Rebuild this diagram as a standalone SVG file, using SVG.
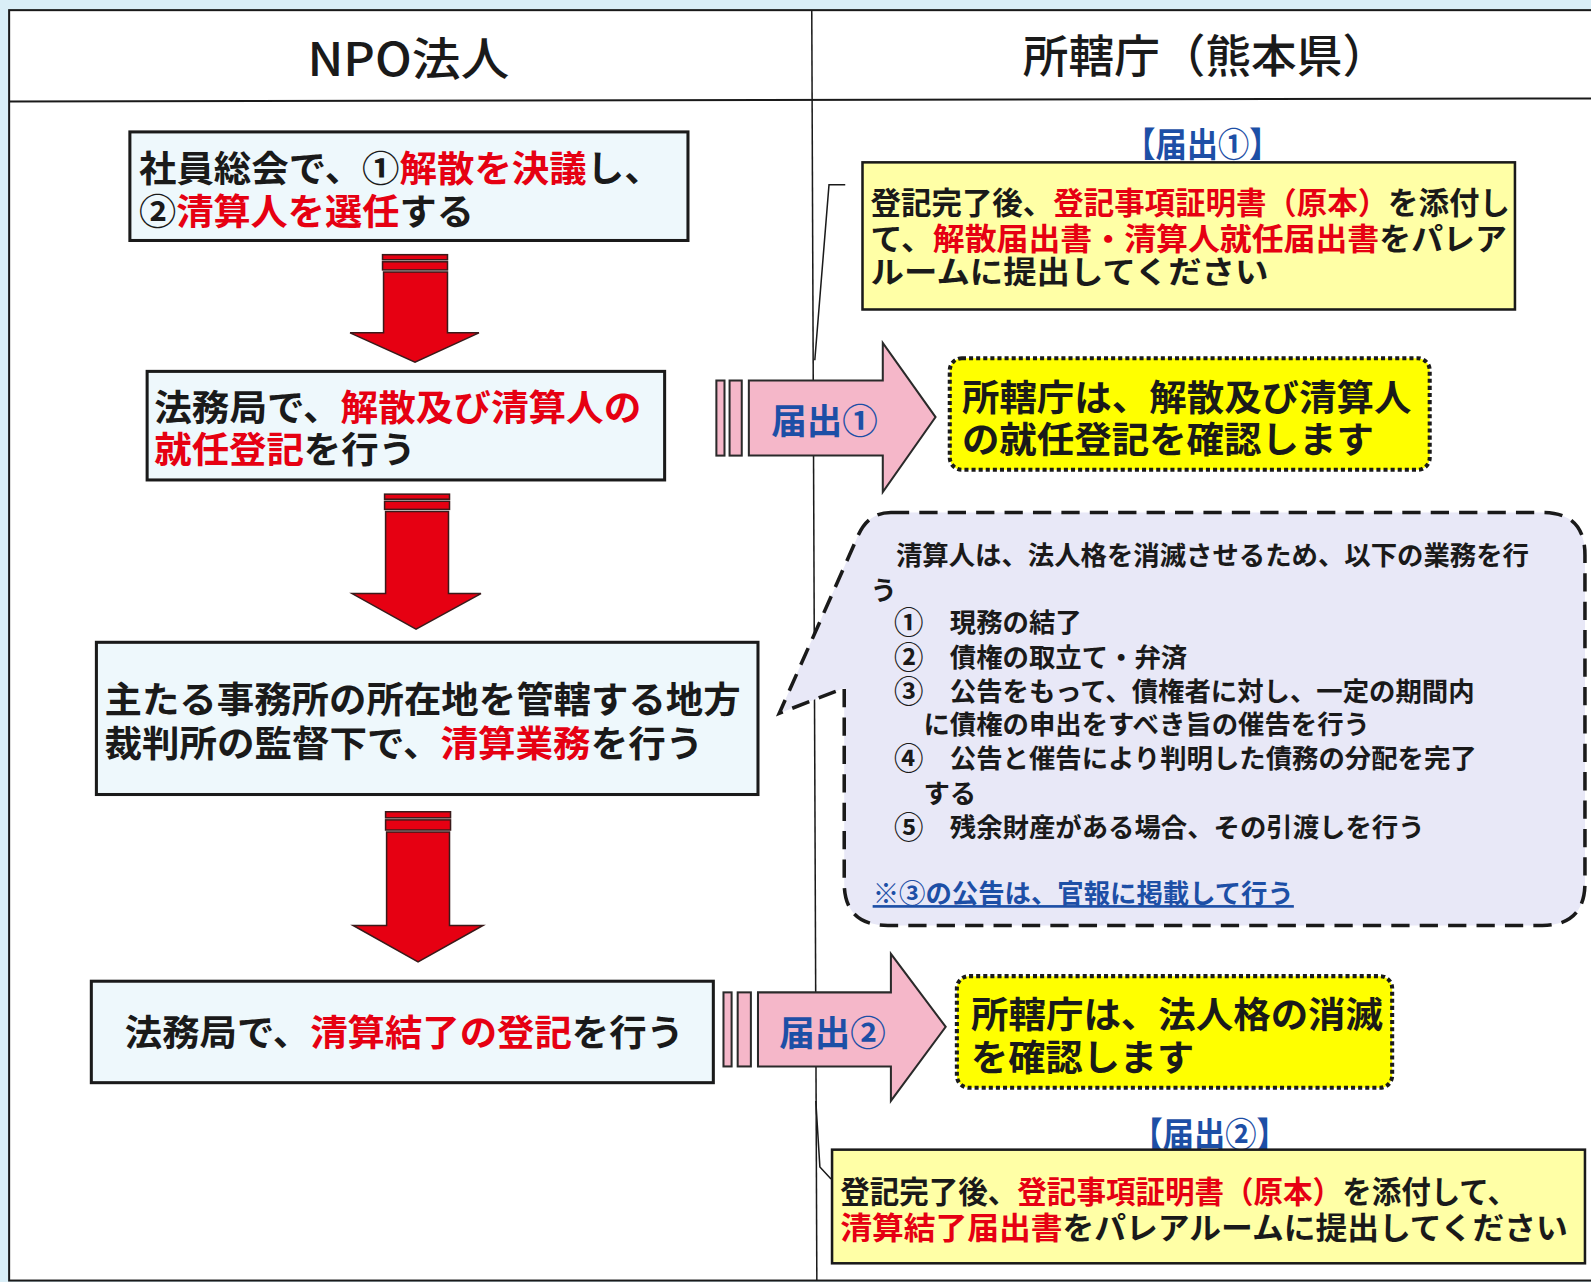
<svg xmlns="http://www.w3.org/2000/svg" width="1591" height="1282" viewBox="0 0 1591 1282">
<style>
text{font-family:"Noto Sans CJK JP","Noto Sans",sans-serif;font-weight:bold;fill:#1a1a1a}
.hd{font-weight:500;font-size:45px}
.b36{font-size:36px}
.b31{font-size:30px}
.b26{font-size:26px}
.num{font-size:29px}
.r{fill:#e60012}
.bl{fill:#1d4fa6}
.box{fill:#eef8fc;stroke:#1a1a1a;stroke-width:3}
.info{fill:#ffffa6;stroke:#1a1a1a;stroke-width:2.5}
.dot{fill:#ffff00;stroke:#1a1a1a;stroke-width:4;stroke-dasharray:4 3}
.red{fill:#e60012;stroke:#3a1a1a;stroke-width:1.5}
.pink{fill:#f5b7c9;stroke:#2a2a2a;stroke-width:2}
.ln{fill:none;stroke:#1a1a1a;stroke-width:1.5}
</style>
<rect x="0" y="0" width="1591" height="1282" fill="#d9eef7"/>
<g transform="scale(1.0147)">
<g id="table">
<rect x="9" y="10" width="1600" height="1252" fill="#ffffff" stroke="#1a1a1a" stroke-width="2"/>
<line x1="9" y1="100" x2="1591" y2="97" stroke="#1a1a1a" stroke-width="2"/>
<line x1="800" y1="10" x2="805" y2="1262" stroke="#1a1a1a" stroke-width="1.5"/>
<text class="hd" x="303" y="75" textLength="199" lengthAdjust="spacingAndGlyphs">NPO法人</text>
<text class="hd" x="1188" y="72" text-anchor="middle">所轄庁（熊本県）</text>
</g>
<g id="connectors">
<g id="down1"><rect class="red" x="377" y="251" width="64" height="5"/><rect class="red" x="377" y="258" width="64" height="8"/><path class="red" d="M378,268 H441 V328 H472 L409,357 L345,328 H378 Z"/></g>
<g id="down2"><rect class="red" x="379" y="487" width="64" height="5"/><rect class="red" x="379" y="494" width="64" height="8"/><path class="red" d="M380,504 H442 V585 H474 L410,620 L347,585 H380 Z"/></g>
<g id="down3"><rect class="red" x="380" y="800" width="64" height="6"/><rect class="red" x="380" y="808" width="64" height="10"/><path class="red" d="M381,820 H443 V912 H476 L412,948 L348,912 H381 Z"/></g>
<g id="pink1"><rect class="pink" x="706" y="375" width="8" height="74"/><rect class="pink" x="719" y="375" width="12" height="74"/><path class="pink" d="M738,375 H870 V338 L922,411 L870,485 V449 H738 Z"/><text class="bl" x="760" y="428" font-size="35">届出①</text></g>
<g id="pink2"><rect class="pink" x="713" y="978" width="8" height="73"/><rect class="pink" x="727" y="978" width="13" height="73"/><path class="pink" d="M747,978 H878 V940 L932,1012 L878,1085 V1051 H747 Z"/><text class="bl" x="768" y="1031" font-size="35">届出②</text></g>
<path class="ln" d="M833,182 H817 L803,355"/>
<path class="ln" d="M804,1085 L808,1150 L819,1162"/>
</g>
<g id="n1"><rect class="box" x="128" y="130" width="550" height="107"/>
<text class="b36" x="137" y="179" textLength="515" lengthAdjust="spacingAndGlyphs">社員総会で、①<tspan class="r">解散を決議</tspan>し、</text>
<text class="b36" x="137" y="222" textLength="330" lengthAdjust="spacingAndGlyphs">②<tspan class="r">清算人を選任</tspan>する</text></g>
<g id="n2"><rect class="box" x="145" y="366" width="510" height="107"/>
<text class="b36" x="152" y="415" textLength="480" lengthAdjust="spacingAndGlyphs">法務局で、<tspan class="r">解散及び清算人の</tspan></text>
<text class="b36" x="152" y="456" textLength="258" lengthAdjust="spacingAndGlyphs"><tspan class="r">就任登記</tspan>を行う</text></g>
<g id="n3"><rect class="box" x="95" y="633" width="652" height="150"/>
<text class="b36" x="103" y="703" textLength="627" lengthAdjust="spacingAndGlyphs">主たる事務所の所在地を管轄する地方</text>
<text class="b36" x="103" y="746" textLength="590" lengthAdjust="spacingAndGlyphs">裁判所の監督下で、<tspan class="r">清算業務</tspan>を行う</text></g>
<g id="n4"><rect class="box" x="90" y="967" width="613" height="100"/>
<text class="b36" x="123" y="1031" textLength="551" lengthAdjust="spacingAndGlyphs">法務局で、<tspan class="r">清算結了の登記</tspan>を行う</text></g>
<g id="info1">
<text class="bl" x="1108" y="155" font-size="34" textLength="154" lengthAdjust="spacingAndGlyphs">【届出①】</text>
<rect class="info" x="850" y="160" width="643" height="145"/>
<text class="b31" x="858" y="211" textLength="630" lengthAdjust="spacingAndGlyphs">登記完了後、<tspan class="r">登記事項証明書（原本）</tspan>を添付し</text>
<text class="b31" x="858" y="246" textLength="627" lengthAdjust="spacingAndGlyphs">て、<tspan class="r">解散届出書・清算人就任届出書</tspan>をパレア</text>
<text class="b31" x="858" y="279" textLength="392" lengthAdjust="spacingAndGlyphs">ルームに提出してください</text>
</g>
<g id="confirm1"><rect class="dot" x="936" y="353" width="473" height="110" rx="12"/>
<text class="b36" x="948" y="405" textLength="443" lengthAdjust="spacingAndGlyphs">所轄庁は、解散及び清算人</text>
<text class="b36" x="948" y="446" textLength="406" lengthAdjust="spacingAndGlyphs">の就任登記を確認します</text></g>
<g id="bubble">
<path d="M878,505 H1520 Q1562,505 1562,547 V870 Q1562,912 1520,912 H875 Q832,912 832,870 V678 L768,703 L846,527 Q856,505 878,505 Z" fill="#e8e8f7" stroke="#1a1a1a" stroke-width="3.5" stroke-dasharray="18 10"/>
<text class="b26" x="883" y="557">清算人は、法人格を消滅させるため、以下の業務を行</text>
<text class="b26" x="858" y="591">う</text>
<text class="num" x="881" y="624">①</text><text class="b26" x="936" y="623">現務の結了</text>
<text class="num" x="881" y="658">②</text><text class="b26" x="936" y="657">債権の取立て・弁済</text>
<text class="num" x="881" y="692">③</text><text class="b26" x="936" y="691">公告をもって、債権者に対し、一定の期間内</text>
<text class="b26" x="910" y="723">に債権の申出をすべき旨の催告を行う</text>
<text class="num" x="881" y="758">④</text><text class="b26" x="936" y="757">公告と催告により判明した債務の分配を完了</text>
<text class="b26" x="910" y="791">する</text>
<text class="num" x="881" y="826">⑤</text><text class="b26" x="936" y="825">残余財産がある場合、その引渡しを行う</text>
<text class="b26 bl" x="860" y="890" text-decoration="underline">※③の公告は、官報に掲載して行う</text>
</g>
<g id="confirm2"><rect class="dot" x="943" y="962" width="429" height="110" rx="12"/>
<text class="b36" x="957" y="1013" textLength="406" lengthAdjust="spacingAndGlyphs">所轄庁は、法人格の消滅</text>
<text class="b36" x="957" y="1055" textLength="220" lengthAdjust="spacingAndGlyphs">を確認します</text></g>
<g id="info2">
<text class="bl" x="1115" y="1130" font-size="34" textLength="154" lengthAdjust="spacingAndGlyphs">【届出②】</text>
<rect class="info" x="820" y="1133" width="742" height="112"/>
<text class="b31" x="828" y="1186" textLength="667" lengthAdjust="spacingAndGlyphs">登記完了後、<tspan class="r">登記事項証明書（原本）</tspan>を添付して、</text>
<text class="b31" x="828" y="1221" textLength="717" lengthAdjust="spacingAndGlyphs"><tspan class="r">清算結了届出書</tspan>をパレアルームに提出してください</text>
</g>
</g>
</svg>
